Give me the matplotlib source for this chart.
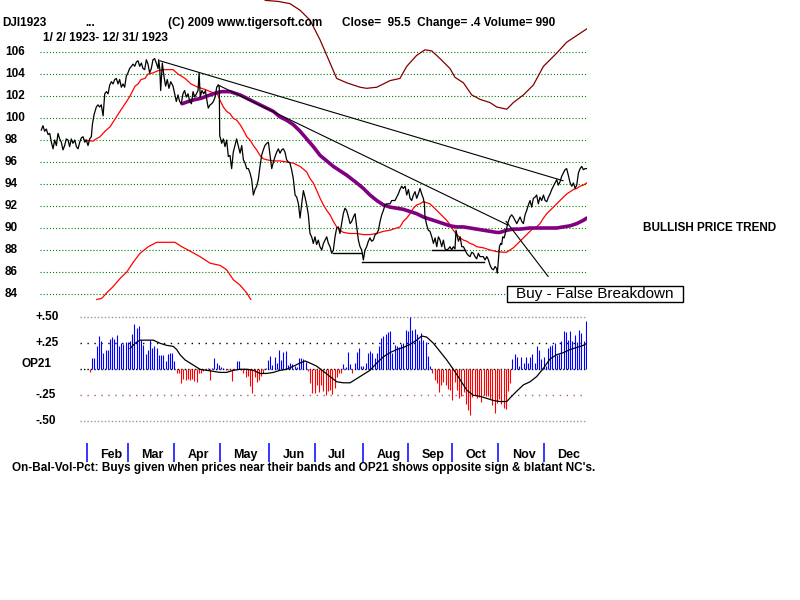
"""DJI 1923 chart in the TigerSoft style.

Upper panel: daily close, 21-day band line (red), 65-day average (purple),
a relative strength trace (maroon), trend lines and support lines.
Lower panel: OP21 (On-Bal-Vol-Pct) bars with their moving average.
"""

import numpy as np
import matplotlib
matplotlib.use("Agg")
import matplotlib.pyplot as plt
from matplotlib import transforms
from matplotlib.patches import Rectangle

# ---------------------------------------------------------------- data
# x values are day of the year 1923
price_day = [
    2.7, 3.8, 4.9, 6.0, 7.2, 8.3, 9.4, 10.5, 11.6, 12.7,
    13.8, 14.9, 16.0, 17.1, 18.2, 19.3, 20.4, 21.5, 22.6, 23.7,
    24.9, 26.0, 27.1, 28.2, 29.3, 30.4, 31.5, 32.6, 33.7, 34.8,
    35.9, 36.6, 37.7, 39.2, 40.3, 41.4, 42.5, 43.7, 44.8, 45.9,
    47.0, 48.1, 49.2, 50.3, 51.4, 52.5, 53.6, 54.7, 55.8, 56.9,
    58.0, 59.1, 60.2, 61.3, 62.5, 63.6, 64.7, 65.8, 66.9, 68.0,
    69.1, 70.2, 71.3, 72.4, 73.5, 74.6, 75.7, 76.8, 77.9, 79.0,
    80.2, 80.6, 81.3, 81.9, 83.0, 84.1, 85.2, 86.3, 87.4, 88.6,
    90.1, 91.2, 92.3, 93.4, 94.5, 95.6, 96.7, 97.8, 98.9, 100.1,
    101.2, 102.3, 103.4, 104.5, 105.6, 106.7, 107.4, 108.2, 109.3, 110.5,
    111.6, 112.7, 113.5, 114.7, 115.8, 116.9, 118.0, 119.1, 120.2, 120.8,
    121.1, 122.4, 123.5, 124.6, 125.7, 126.8, 127.9, 129.0, 130.1, 131.2,
    132.3, 133.5, 134.6, 135.7, 136.8, 137.9, 139.0, 140.1, 141.2, 142.3,
    143.4, 144.5, 145.6, 146.7, 147.8, 148.9, 150.0, 151.1, 152.3, 153.4,
    154.5, 155.6, 156.7, 157.8, 158.9, 160.0, 161.1, 162.2, 163.3, 164.4,
    165.5, 166.6, 167.7, 168.8, 169.9, 171.1, 172.2, 173.3, 174.4, 175.5,
    176.6, 177.7, 178.8, 179.9, 181.0, 182.1, 183.2, 184.3, 185.4, 186.5,
    187.6, 188.8, 189.9, 191.0, 192.1, 193.2, 194.3, 195.4, 196.5, 197.6,
    198.7, 199.8, 200.9, 202.0, 203.1, 204.2, 205.3, 206.5, 207.6, 208.7,
    209.8, 210.9, 212.0, 213.1, 214.2, 215.3, 216.4, 217.5, 218.6, 219.7,
    220.8, 221.9, 223.0, 224.2, 225.3, 226.4, 227.5, 228.6, 229.7, 230.8,
    231.9, 233.0, 234.1, 235.2, 236.3, 237.4, 238.5, 239.6, 240.7, 241.8,
    242.9, 244.1, 245.2, 246.3, 247.4, 248.5, 249.6, 250.7, 251.8, 252.9,
    254.0, 255.1, 256.2, 256.9, 257.3, 258.4, 259.5, 260.6, 261.8, 262.9,
    264.0, 265.1, 266.2, 267.3, 268.4, 269.5, 270.6, 271.7, 272.8, 273.9,
    275.0, 276.1, 277.2, 277.9, 278.8, 279.5, 280.6, 281.7, 282.8, 283.9,
    285.0, 286.1, 287.2, 288.3, 289.4, 290.5, 291.6, 292.7, 293.8, 294.9,
    296.0, 297.1, 298.3, 299.4, 300.5, 301.6, 302.7, 303.8, 304.9, 305.3,
    306.0, 306.7, 307.5, 308.2, 308.9, 309.8, 311.1, 312.6, 313.7, 314.8,
    315.9, 317.0, 318.2, 319.3, 320.4, 321.5, 322.6, 323.7, 324.8, 325.9,
    327.0, 328.1, 329.2, 330.3, 331.4, 332.5, 333.6, 334.7, 335.9, 337.0,
    338.1, 339.2, 340.3, 341.4, 342.5, 343.6, 344.7, 345.8, 346.9, 348.0,
    349.1, 350.2, 351.3, 352.4, 353.6, 354.7, 355.8, 356.9, 358.0, 359.1,
    360.2, 361.3, 362.4, 363.5, 364.6,
]
price_close = [
    98.9, 99.3, 98.8, 99.0, 98.5, 98.6, 97.8, 97.2, 98.0, 97.5,
    98.6, 98.1, 97.8, 97.1, 97.5, 98.1, 98.0, 97.4, 98.1, 97.7,
    98.0, 97.4, 97.2, 97.8, 98.2, 98.3, 97.8, 98.0, 97.5, 98.1,
    98.3, 99.4, 100.3, 101.0, 101.2, 101.0, 101.2, 100.2, 102.2, 102.4,
    102.2, 103.0, 103.3, 103.1, 103.5, 103.6, 103.1, 103.5, 102.8, 103.1,
    102.8, 103.8, 104.1, 104.5, 104.7, 104.9, 104.7, 105.1, 105.2, 104.7,
    105.0, 104.5, 104.4, 105.3, 104.9, 104.1, 104.5, 105.3, 105.4, 105.0,
    104.5, 105.3, 104.5, 102.5, 105.0, 103.8, 102.9, 103.5, 102.7, 103.3,
    102.9, 102.2, 101.5, 102.1, 101.5, 101.3, 102.2, 102.5, 101.9, 102.2,
    101.5, 101.3, 102.4, 101.9, 102.2, 102.5, 104.1, 101.9, 102.5, 102.2,
    102.5, 101.5, 100.9, 101.2, 101.3, 101.5, 101.9, 102.8, 103.0, 102.8,
    98.4, 97.7, 98.1, 97.4, 98.0, 96.5, 96.6, 95.4, 96.9, 97.5,
    98.1, 97.4, 96.8, 97.5, 96.2, 95.9, 95.4, 95.4, 95.0, 94.4,
    93.0, 93.5, 93.8, 94.4, 95.6, 96.6, 97.1, 97.5, 97.7, 97.8,
    96.6, 95.4, 96.0, 96.5, 96.9, 97.2, 96.8, 97.1, 97.2, 96.9,
    96.2, 96.0, 95.9, 95.3, 94.5, 93.0, 92.8, 92.2, 90.9, 92.2,
    93.4, 92.8, 92.1, 91.2, 89.5, 89.2, 88.6, 89.2, 88.5, 88.9,
    88.3, 88.0, 88.6, 88.9, 89.2, 88.6, 88.3, 87.7, 88.0, 89.2,
    90.0, 90.1, 89.5, 90.4, 91.3, 91.8, 91.6, 91.0, 90.4, 90.6,
    91.0, 91.3, 90.1, 88.9, 88.3, 88.0, 87.1, 88.0, 88.3, 88.8,
    89.1, 88.8, 88.9, 89.4, 89.5, 89.8, 90.6, 91.2, 91.6, 92.1,
    92.2, 92.2, 92.2, 92.5, 92.5, 92.5, 92.8, 93.1, 93.5, 93.8,
    93.6, 93.8, 93.0, 93.5, 92.7, 92.5, 93.0, 93.3, 92.7, 93.1,
    93.6, 93.1, 92.7, 92.2, 91.0, 90.3, 89.8, 89.7, 89.2, 88.6,
    89.1, 88.3, 89.2, 88.9, 88.3, 88.9, 88.1, 88.0, 88.1, 88.3,
    88.0, 88.3, 88.1, 89.8, 89.2, 88.8, 89.2, 88.3, 88.3, 88.0,
    87.7, 87.5, 87.4, 87.8, 87.7, 87.4, 87.2, 87.7, 87.4, 87.4,
    87.4, 87.1, 87.4, 87.1, 86.6, 86.3, 86.2, 86.5, 86.3, 85.9,
    87.1, 88.3, 88.6, 88.5, 89.2, 89.1, 89.8, 90.6, 91.0, 91.2,
    91.0, 90.7, 90.4, 90.7, 91.0, 90.6, 90.4, 91.2, 91.6, 92.1,
    92.5, 91.9, 92.7, 92.8, 93.0, 92.2, 92.8, 92.5, 93.0, 92.5,
    92.4, 92.8, 93.1, 93.5, 93.8, 94.1, 94.4, 93.9, 94.2, 94.7,
    95.0, 95.3, 95.4, 94.8, 94.1, 93.8, 94.1, 93.6, 93.9, 95.0,
    95.4, 95.6, 95.3, 95.4, 95.4,
]

# red 21-day band line
band_day = [
    31.7, 33.7, 37.0, 39.0, 41.7, 45.0, 48.3, 51.6, 54.9, 58.3,
    61.6, 64.9, 66.9, 68.9, 71.5, 73.5, 76.8, 80.1, 83.5, 88.1,
    90.1, 93.4, 98.1, 102.0, 106.7, 111.3, 116.6, 120.0, 121.3, 123.5,
    125.7, 127.9, 130.1, 132.4, 134.6, 136.8, 139.0, 141.2, 143.4, 145.6,
    147.8, 150.0, 152.3, 156.7, 161.1, 165.5, 169.9, 174.4, 178.8, 181.0,
    183.2, 185.5, 187.7, 189.9, 192.1, 194.3, 196.5, 198.7, 200.9, 203.1,
    207.6, 212.0, 216.4, 220.8, 225.3, 229.7, 234.1, 238.5, 240.7, 242.9,
    245.2, 247.4, 249.6, 251.8, 254.0, 256.2, 258.4, 260.6, 262.9, 265.1,
    267.3, 269.5, 271.7, 273.9, 276.1, 278.4, 280.6, 282.8, 285.0, 287.2,
    289.4, 291.6, 296.0, 300.5, 304.9, 309.3, 311.6, 313.7, 315.9, 318.2,
    320.4, 322.6, 324.8, 327.0, 329.2, 331.4, 333.6, 335.9, 338.1, 340.3,
    342.5, 344.7, 346.9, 349.1, 351.4, 353.6, 355.8, 358.0, 360.2, 362.4,
    364.6,
]
band_val = [
    98.0, 97.95, 97.9, 98.1, 98.3, 98.8, 99.2, 99.9, 100.6, 101.3,
    102.0, 102.9, 103.1, 103.5, 103.6, 104.0, 104.1, 104.3, 104.4, 104.4,
    104.4, 104.0, 103.6, 103.1, 102.8, 102.6, 102.3, 102.1, 101.6, 101.0,
    100.6, 100.4, 99.97, 99.8, 99.4, 98.9, 98.3, 98.0, 97.5, 97.1,
    96.6, 96.3, 96.2, 96.1, 96.1, 96.0, 95.9, 95.6, 95.1, 94.5,
    94.1, 93.4, 92.7, 92.1, 91.6, 91.2, 90.6, 90.1, 89.8, 89.6,
    89.5, 89.5, 89.4, 89.4, 89.5, 89.7, 89.8, 90.0, 90.1, 90.6,
    90.9, 91.3, 91.8, 92.1, 92.2, 92.4, 92.3, 92.2, 91.9, 91.6,
    91.3, 91.0, 90.7, 90.3, 89.8, 89.4, 89.1, 88.9, 88.8, 88.6,
    88.5, 88.3, 88.2, 88.0, 87.85, 87.8, 87.8, 88.0, 88.2, 88.5,
    88.8, 89.1, 89.4, 89.7, 90.0, 90.1, 90.4, 90.9, 91.3, 91.6,
    91.9, 92.2, 92.5, 92.8, 93.1, 93.3, 93.5, 93.6, 93.8, 93.9,
    94.1,
]

# purple long moving average
avg_day = [
    96.1, 102.3, 108.9, 114.7, 119.1, 122.4, 127.9, 134.6, 139.0, 143.4,
    147.8, 152.3, 156.7, 161.1, 165.5, 169.9, 174.4, 178.8, 183.2, 187.7,
    192.1, 196.5, 200.9, 205.4, 212.0, 216.4, 220.8, 225.3, 229.7, 234.1,
    238.5, 242.9, 247.4, 251.8, 256.2, 260.6, 265.1, 269.5, 273.9, 278.4,
    282.8, 287.2, 291.6, 296.0, 300.5, 304.9, 307.1, 311.6, 315.9, 320.4,
    327.0, 335.9, 344.7, 349.1, 353.6, 358.0, 362.4, 364.6,
]
avg_val = [
    101.3, 101.6, 101.8, 102.1, 102.3, 102.4, 102.4, 102.1, 101.8, 101.5,
    101.2, 100.9, 100.6, 100.1, 99.8, 99.4, 98.8, 98.1, 97.4, 96.6,
    96.1, 95.6, 95.2, 94.8, 94.1, 93.6, 93.0, 92.5, 92.1, 91.9,
    91.8, 91.7, 91.5, 91.3, 91.0, 90.8, 90.6, 90.4, 90.2, 90.1,
    90.1, 90.0, 89.9, 89.8, 89.7, 89.6, 89.6, 89.8, 89.9, 89.9,
    90.0, 90.0, 90.0, 90.1, 90.2, 90.4, 90.7, 90.9,
]

# maroon trace along the top (runs off the top edge in June)
rs_day = [
    149.2, 151.2, 160.0, 167.7, 174.4, 181.0, 187.7, 194.3, 198.7, 205.4,
    214.2, 218.6, 225.3, 234.1, 240.7, 245.2, 251.8, 257.3, 261.8, 267.3,
    273.9, 277.2, 282.8, 288.3, 293.8, 300.5, 304.9, 311.6, 315.9, 322.6,
    329.2, 335.9, 344.7, 351.4, 358.0, 364.6,
]
rs_val = [
    111.5, 110.7, 110.6, 110.4, 109.8, 108.9, 107.1, 105.0, 103.6, 103.2,
    102.8, 102.7, 102.8, 103.4, 103.6, 104.7, 105.7, 106.2, 106.1, 105.4,
    104.5, 103.7, 103.2, 102.1, 101.7, 101.4, 101.0, 100.8, 101.4, 102.1,
    103.0, 104.7, 105.9, 106.9, 107.5, 108.1,
]

# red arc near the bottom of the price panel
arc_day = [39.5, 42.8, 46.1, 50.5, 54.9, 59.4, 63.8, 68.2, 73.7, 79.3, 85.9,
           91.4, 95.9, 101.4, 108.0, 114.7, 121.3, 125.7, 130.1, 134.6, 139.0,
           141.7]
arc_val = [83.5, 83.6, 84.1, 84.7, 85.4, 86.0, 86.9, 87.7, 88.3, 88.7, 88.7,
           88.7, 88.3, 87.9, 87.4, 86.8, 86.6, 86.2, 85.3, 84.8, 84.1, 83.5]

# trend lines (start, end) and flat support lines
trend_day = [(81.5, 348.9), (120.0, 311.8), (311.1, 339.0)]
trend_val = [(105.2, 94.3), (103.0, 90.3), (90.6, 85.6)]
support_day = [(196.3, 215.5), (215.5, 296.5), (262.0, 283.9)]
support_val = [87.75, 86.9, 88.0]

# OP21 daily bars, first session Feb 3, last Dec 31
op21_first_day, op21_last_day = 35.0, 364.0
op21_bars = [
    -0.03, 0.11, 0.11, 0.22, 0.32, 0.27, 0.16, 0.19, 0.19, 0.29,
    0.31, 0.29, 0.33, 0.22, 0.25, 0.24, 0.26, 0.26, 0.27, 0.34,
    0.44, 0.40, 0.42, 0.28, 0.23, 0.15, 0.19, 0.28, 0.20, 0.22,
    0.20, 0.14, 0.14, 0.14, 0.08, 0.15, 0.16, 0.16, 0.08, -0.04,
    -0.04, -0.13, -0.09, -0.10, -0.09, -0.10, -0.09, -0.11, -0.12, -0.04,
    -0.04, -0.02, -0.01, 0.01, -0.10, 0.01, 0.11, 0.06, 0.04, 0.02,
    0.01, -0.01, -0.01, -0.01, -0.11, -0.01, 0.08, 0.08, -0.01, -0.04,
    -0.07, -0.06, -0.16, -0.23, -0.07, -0.12, -0.10, -0.06, -0.04, 0.01,
    0.09, 0.13, 0.04, 0.12, 0.06, 0.19, 0.09, 0.17, 0.18, 0.04,
    0.06, 0.05, 0.03, 0.02, 0.11, 0.11, 0.10, 0.07, -0.02, -0.13,
    -0.23, -0.23, -0.15, -0.22, -0.15, -0.21, -0.25, -0.21, -0.20,
    -0.24, -0.18, -0.07, -0.04, -0.04, 0.05, 0.02, 0.17, 0.05, -0.04,
    0.06, 0.17, 0.20, 0.03, 0.03, 0.06, 0.16, 0.18, 0.16, 0.11,
    0.16, 0.22, 0.30, 0.32, 0.34, 0.36, 0.37, 0.16, 0.23, 0.22,
    0.21, 0.24, 0.25, 0.38, 0.37, 0.50, 0.38, 0.39, 0.34, 0.28,
    0.35, 0.28, 0.26, 0.13, 0.03, -0.04, -0.10, -0.13, -0.22, -0.15,
    -0.12, -0.15, -0.19, -0.20, -0.30, -0.12, -0.20, -0.28, -0.26, -0.22,
    -0.33, -0.39, -0.44, -0.27, -0.25, -0.28, -0.27, -0.31, -0.25, -0.26,
    -0.26, -0.29, -0.34, -0.42, -0.32, -0.29, -0.33, -0.37, -0.38, -0.21,
    -0.13, 0.10, 0.15, 0.12, 0.03, 0.12, 0.06, 0.12, 0.06, 0.12,
    0.15, 0.06, 0.22, 0.19, 0.10, 0.12, 0.03, 0.20, 0.22, 0.23,
    0.25, 0.14, 0.15, 0.27, 0.37, 0.36, 0.28, 0.37, 0.27, 0.33,
    0.26, 0.38, 0.35, 0.27, 0.46,
]

# OP21 moving average line
op21_ma_day = [
    61.6, 64.9, 68.2, 72.6, 77.1, 81.5, 85.9, 90.3, 92.5, 94.8,
    98.1, 101.4, 104.7, 108.0, 112.4, 116.9, 121.3, 125.7, 130.1, 134.6,
    139.0, 143.4, 147.8, 152.3, 156.7, 161.1, 165.5, 170.0, 174.4, 177.7,
    181.0, 185.4, 189.9, 194.3, 198.7, 203.1, 207.6, 212.0, 216.4, 220.8,
    225.3, 229.7, 234.1, 238.5, 243.0, 247.4, 251.8, 255.1, 258.4, 262.9,
    267.3, 271.7, 276.1, 280.6, 285.0, 289.4, 293.8, 298.3, 302.7, 307.1,
    311.5, 314.8, 318.2, 322.6, 327.0, 331.4, 335.9, 340.3, 344.7, 349.1,
    353.6, 358.0, 362.4, 364.6,
]
op21_ma_val = [
    0.20, 0.25, 0.28, 0.28, 0.28, 0.25, 0.23, 0.22, 0.19, 0.14,
    0.09, 0.06, 0.03, 0.0, -0.01, -0.02, -0.03, -0.03, -0.01, 0.0,
    0.0, -0.01, -0.04, -0.04, -0.03, -0.01, 0.0, 0.03, 0.06, 0.08,
    0.06, 0.03, -0.02, -0.07, -0.12, -0.13, -0.13, -0.09, -0.05, -0.01,
    0.06, 0.12, 0.16, 0.19, 0.21, 0.24, 0.28, 0.32, 0.31, 0.25,
    0.17, 0.09, 0.0, -0.10, -0.20, -0.25, -0.26, -0.28, -0.30, -0.31,
    -0.31, -0.26, -0.21, -0.15, -0.12, -0.07, 0.01, 0.10, 0.14, 0.16,
    0.19, 0.21, 0.23, 0.25,
]

# first trading session of each month
month_day = [33, 60, 91, 121, 154, 184, 216, 246, 275, 306, 336]
month_name = ["Feb", "Mar", "Apr", "May", "Jun", "Jul", "Aug", "Sep", "Oct",
              "Nov", "Dec"]

price_ticks = list(range(84, 107, 2))
op21_ticks = [0.50, 0.25, -0.25, -0.50]
op21_tick_labels = ["+.50", "+.25", "-.25", "-.50"]

# ---------------------------------------------------------------- layout
W, H = 800, 600
FONT = "Liberation Sans"
XLIM = (1.84, 364.8)
DOTS = (0, (1, 1.8))


def px_axes(fig, left, top, right, bottom):
    """Add axes placed by pixel edges."""
    return fig.add_axes([left / W, 1 - bottom / H,
                         (right - left) / W, (bottom - top) / H])


def ftext(fig, x, y, s, **kw):
    """Figure text placed by pixel position."""
    kw.setdefault("fontsize", 8.5)
    kw.setdefault("fontweight", "bold")
    kw.setdefault("family", FONT)
    kw.setdefault("va", "center")
    return fig.text(x / W, 1 - y / H, s, **kw)


def draw_price_panel(fig):
    ax = px_axes(fig, 40, 0, 587, 305)
    ax.set_xlim(*XLIM)
    ax.set_ylim(83.0, 110.73)
    ax.axis("off")

    label_trans = transforms.blended_transform_factory(fig.transFigure,
                                                       ax.transData)
    for v in price_ticks:
        ax.plot(XLIM, [v, v], color="#008000", lw=0.8, ls=DOTS, zorder=1)
        ax.text(5 / W, v, str(v), transform=label_trans, ha="left",
                va="center", fontsize=8.5, fontweight="bold", family=FONT)

    ax.plot(rs_day, rs_val, color="#800000", lw=0.9, zorder=2)
    ax.plot(arc_day, arc_val, color="red", lw=0.9, zorder=2)
    ax.plot(band_day, band_val, color="red", lw=0.9, zorder=3)
    ax.plot(avg_day, avg_val, color="#800080", lw=2.6, zorder=3,
            solid_capstyle="round")
    ax.plot(price_day, price_close, color="black", lw=0.9, zorder=4)

    for d, v in zip(trend_day, trend_val):
        ax.plot(d, v, color="black", lw=0.8, zorder=4)
    for d, v in zip(support_day, support_val):
        ax.plot(d, [v, v], color="black", lw=1, zorder=4)
    return ax


def draw_op21_panel(fig):
    ax = px_axes(fig, 40, 310, 587, 432)
    ax.set_xlim(*XLIM)
    ax.set_ylim(-0.603, 0.570)
    ax.axis("off")

    x0 = 28.4
    grid_style = {
        0.50: ("#999999", (0, (1, 1.5))),
        0.25: ("black", (0, (1, 4))),
        0.0: ("black", (0, (1, 1.5))),
        -0.25: ("#b06060", (0, (1, 4))),
        -0.50: ("#999999", (0, (1, 1.5))),
    }
    for v, (c, ls) in grid_style.items():
        ax.plot([x0, XLIM[1]], [v, v], color=c, lw=1, ls=ls, zorder=1)

    bar_day = np.linspace(op21_first_day, op21_last_day, len(op21_bars))
    bars = np.array(op21_bars)
    colors = np.where(bars > 0, "#0000ff", "#ff0000")
    ax.vlines(bar_day, 0, bars, colors=colors, lw=0.8, zorder=2)
    ax.plot(op21_ma_day, op21_ma_val, color="black", lw=0.9, zorder=3)

    label_trans = transforms.blended_transform_factory(fig.transFigure,
                                                       ax.transData)
    for v, s in zip(op21_ticks, op21_tick_labels):
        ax.text(35 / W, v, s, transform=label_trans, ha="left", va="center",
                fontsize=8.5, fontweight="bold", family=FONT)
    ax.text(22 / W, 0.05, "OP21", transform=label_trans, ha="left",
            va="center", fontsize=8.5, fontweight="bold", family=FONT)
    return ax


def draw_month_axis(fig):
    ax = px_axes(fig, 40, 440, 587, 465)
    ax.set_xlim(*XLIM)
    ax.set_ylim(0, 1)
    ax.axis("off")
    ax.vlines(month_day, 0.12, 0.88, colors="#0000ff", lw=1.1)
    for d, name in zip(month_day, month_name):
        ax.annotate(name, (d, 0.4), xytext=(9.7, 0),
                    textcoords="offset points", ha="left", va="center",
                    fontsize=9, fontweight="bold", family=FONT)
    return ax


def main():
    fig = plt.figure(figsize=(W / 100, H / 100), dpi=100)
    fig.patch.set_facecolor("white")

    draw_price_panel(fig)
    draw_op21_panel(fig)
    draw_month_axis(fig)

    # header
    ftext(fig, 2, 23, "DJI1923")
    ftext(fig, 85, 23, "...")
    ftext(fig, 168, 23, "(C) 2009 www.tigersoft.com")
    ftext(fig, 342, 23, "Close=  95.5  Change= .4 Volume= 990")
    ftext(fig, 43, 38, "1/ 2/ 1923- 12/ 31/ 1923")

    ftext(fig, 643, 228, "BULLISH PRICE TREND")

    # signal box
    fig.patches.append(Rectangle((507 / W, 1 - 302 / H), 176 / W, 16 / H,
                                 transform=fig.transFigure, facecolor="white",
                                 edgecolor="black", lw=1, zorder=5))
    ftext(fig, 595, 294, "Buy - False Breakdown", fontweight="normal",
          fontsize=11, ha="center", zorder=6)

    ftext(fig, 12, 468, "On-Bal-Vol-Pct: Buys given when prices near their "
          "bands and OP21 shows opposite sign & blatant NC's.")

    fig.savefig("out.png", dpi=100)


if __name__ == "__main__":
    main()
